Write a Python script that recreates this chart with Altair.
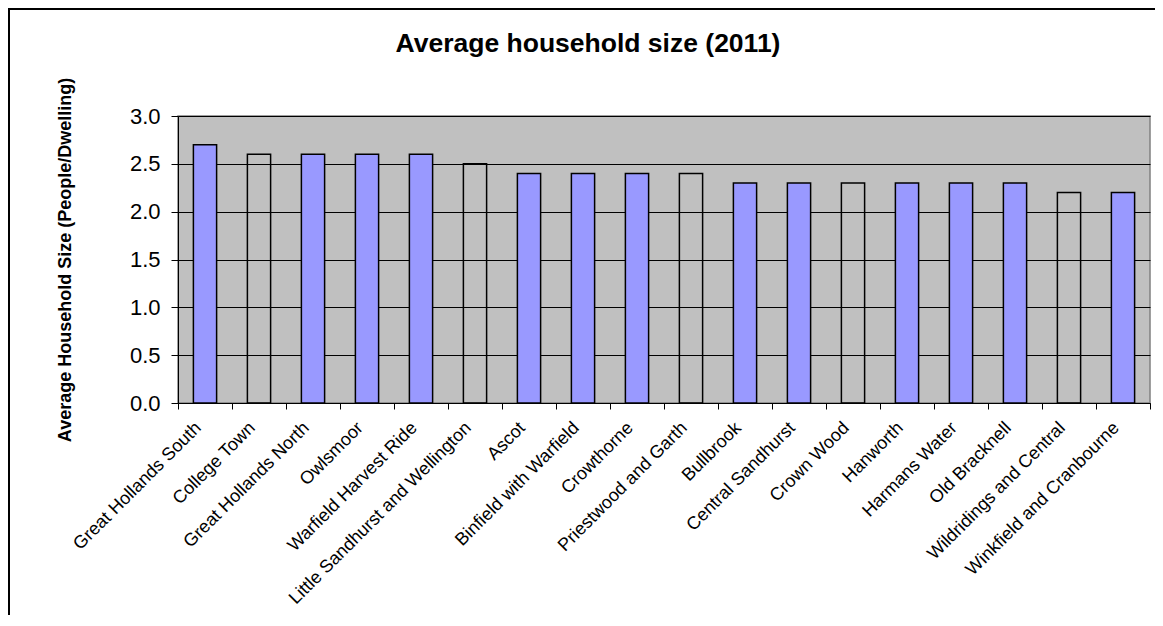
import altair as alt
import pandas as pd

categories = [
    "Great Hollands South", "College Town", "Great Hollands North", "Owlsmoor",
    "Warfield Harvest Ride", "Little Sandhurst and Wellington", "Ascot",
    "Binfield with Warfield", "Crowthorne", "Priestwood and Garth", "Bullbrook",
    "Central Sandhurst", "Crown Wood", "Hanworth", "Harmans Water",
    "Old Bracknell", "Wildridings and Central", "Winkfield and Cranbourne",
]
values = [2.7, 2.6, 2.6, 2.6, 2.6, 2.5, 2.4, 2.4, 2.4, 2.4,
          2.3, 2.3, 2.3, 2.3, 2.3, 2.3, 2.2, 2.2]
shaded = ["yes", "no", "yes", "yes", "yes", "no", "yes", "yes", "yes", "no",
          "yes", "yes", "no", "yes", "yes", "yes", "no", "yes"]
y_ticks = [0.0, 0.5, 1.0, 1.5, 2.0, 2.5, 3.0]

df = pd.DataFrame({"ward": categories, "size": values, "shaded": shaded})

FONT = "Liberation Sans"

base = alt.Chart(df)

bars = base.mark_bar(
    stroke="black", strokeWidth=1.5, width=alt.RelativeBandSize(0.43)
).encode(
    x=alt.X(
        "ward:N", sort=categories, title=None,
        scale=alt.Scale(paddingInner=0, paddingOuter=0),
        axis=alt.Axis(
            labelAngle=-45, labelAlign="right", labelBaseline="middle",
            labelFont=FONT, labelFontSize=18, labelColor="black",
            labelPadding=16, labelOffset=-7, tickSize=6, tickColor="black",
            domainColor="black", tickBand="extent", labelLimit=400,
            grid=False,
        ),
    ),
    y=alt.Y(
        "size:Q", title="Average Household Size (People/Dwelling)",
        scale=alt.Scale(domain=[0, 3.0], nice=False),
        axis=alt.Axis(
            values=y_ticks, format=".1f", labelFont=FONT, labelFontSize=22,
            labelColor="black", tickSize=7, tickColor="black",
            domainColor="black", labelPadding=11, gridColor="black",
            gridWidth=1, titleFont=FONT, titleFontSize=18,
            titleFontWeight="bold", titleColor="black", titleX=-113,
            titleY=143.5, titleAngle=-90, titleAlign="center",
            titleBaseline="middle",
        ),
    ),
    fill=alt.Fill(
        "shaded:N",
        scale=alt.Scale(domain=["yes", "no"], range=["#9999FF", "transparent"]),
        legend=None,
    ),
)

frame_left = base.mark_rule(color="black", strokeWidth=1.5).encode(
    x=alt.value(-169.5), y=alt.value(-108), y2=alt.value(520),
)
frame_top = base.mark_rule(color="black", strokeWidth=1.5).encode(
    x=alt.value(-170), x2=alt.value(1000), y=alt.value(-107.5),
)

chart = alt.layer(bars, frame_left, frame_top).properties(
    width=972,
    height=287,
    autosize=alt.AutoSizeParams(type="none"),
    padding={"left": 170, "top": 108, "right": 5, "bottom": 212},
    background="white",
    title=alt.TitleParams(
        "Average household size (2011)", font=FONT, fontSize=26.5,
        fontWeight="bold", color="black", anchor="middle", frame="group",
        dx=-76, offset=0, dy=71, baseline="alphabetic",
    ),
).configure_view(
    fill="#C0C0C0", stroke="#808080", strokeWidth=1.5
)

chart.save("out.html", embed_options={"renderer": "svg", "actions": False})
